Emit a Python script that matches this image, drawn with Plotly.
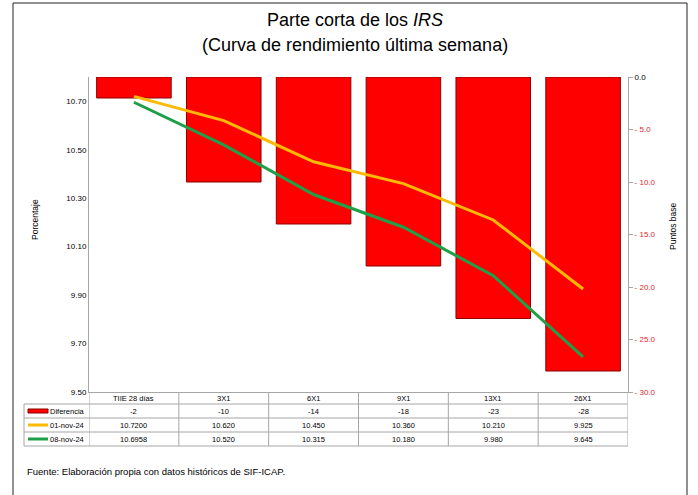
import plotly.graph_objects as go

categories = ["TIIE 28 días", "3X1", "6X1", "9X1", "13X1", "26X1"]
diferencia = [-2, -10, -14, -18, -23, -28]
nov01 = [10.7200, 10.620, 10.450, 10.360, 10.210, 9.925]
nov08 = [10.6958, 10.520, 10.315, 10.180, 9.980, 9.645]
diferencia_labels = ["-2", "-10", "-14", "-18", "-23", "-28"]
nov01_labels = ["10.7200", "10.620", "10.450", "10.360", "10.210", "9.925"]
nov08_labels = ["10.6958", "10.520", "10.315", "10.180", "9.980", "9.645"]
series_names = ["Diferencia", "01-nov-24", "08-nov-24"]
left_ticks = [9.50, 9.70, 9.90, 10.10, 10.30, 10.50, 10.70]
right_ticks = [0.0, -5.0, -10.0, -15.0, -20.0, -25.0, -30.0]

W, H = 698, 495
L, R, T, B = 89, 628, 77, 392
PW, PH = R - L, B - T

def px(x):
    return (x - L) / PW

def py(y):
    return (B - y) / PH

RED = "#FF0000"
ORANGE = "#FFBA00"
GREEN = "#1FA048"
GRID = "#A6A6A6"
FONT = "Liberation Sans"

fig = go.Figure()
fig.add_trace(go.Bar(
    x=categories, y=diferencia, name=series_names[0], yaxis="y",
    marker=dict(color=RED, line=dict(color="#8A0000", width=1)),
))
fig.add_trace(go.Scatter(
    x=categories, y=nov01, name=series_names[1], yaxis="y2", mode="lines",
    line=dict(color=ORANGE, width=3),
))
fig.add_trace(go.Scatter(
    x=categories, y=nov08, name=series_names[2], yaxis="y2", mode="lines",
    line=dict(color=GREEN, width=3),
))

right_text = []
for v in right_ticks:
    s = f"{v:.1f}"
    if v < 0:
        s = f"<span style='color:#E0282E'>- {abs(v):.1f}</span>"
    right_text.append(s)

shapes = []
ann = []

# outer border
shapes.append(dict(type="rect", xref="paper", yref="paper",
                   x0=px(13), x1=px(687), y0=py(500), y1=py(3),
                   line=dict(color="#222222", width=1)))

# table lines
tbl_rows = [404, 418, 432, 446]
for yy in tbl_rows:
    shapes.append(dict(type="line", xref="paper", yref="paper",
                       x0=px(24), x1=px(628), y0=py(yy), y1=py(yy),
                       line=dict(color=GRID, width=1)))
shapes.append(dict(type="line", xref="paper", yref="paper",
                   x0=px(24), x1=px(24), y0=py(404), y1=py(446),
                   line=dict(color=GRID, width=1)))
for i in range(len(categories) + 1):
    shapes.append(dict(type="line", xref="x", yref="paper",
                       x0=i - 0.5, x1=i - 0.5, y0=py(392), y1=py(446),
                       line=dict(color=GRID, width=1)))

# legend keys
key_colors = [RED, ORANGE, GREEN]
row_centers = [411, 425, 439]
for c, yc, name in zip(key_colors, row_centers, series_names):
    if c == RED:
        shapes.append(dict(type="rect", xref="paper", yref="paper",
                           x0=px(28), x1=px(48), y0=py(yc + 2), y1=py(yc - 2),
                           fillcolor=RED, line=dict(color="#8A0000", width=1)))
    else:
        shapes.append(dict(type="line", xref="paper", yref="paper",
                           x0=px(28), x1=px(48), y0=py(yc), y1=py(yc),
                           line=dict(color=c, width=3)))
    ann.append(dict(xref="paper", yref="paper", x=px(48), y=py(yc),
                    text=name, showarrow=False, xanchor="left", yanchor="middle",
                    font=dict(family=FONT, size=7.5, color="#000")))

# table text
rows = [categories, diferencia_labels, nov01_labels, nov08_labels]
row_y = [398, 411, 425, 439]
for labels, yc in zip(rows, row_y):
    for cat, lab in zip(categories, labels):
        ann.append(dict(xref="x", yref="paper", x=cat, y=py(yc),
                        text=lab, showarrow=False, xanchor="center", yanchor="middle",
                        font=dict(family=FONT, size=7.5, color="#000")))

# titles
ann.append(dict(xref="paper", yref="paper", x=px(355), y=py(20),
                text="Parte corta de los <i>IRS</i>", showarrow=False,
                xanchor="center", yanchor="middle",
                font=dict(family=FONT, size=18, color="#000")))
ann.append(dict(xref="paper", yref="paper", x=px(355), y=py(45),
                text="(Curva de rendimiento última semana)", showarrow=False,
                xanchor="center", yanchor="middle",
                font=dict(family=FONT, size=18, color="#000")))
ann.append(dict(xref="paper", yref="paper", x=px(35), y=py(220),
                text="Porcentaje", showarrow=False, textangle=-90,
                xanchor="center", yanchor="middle",
                font=dict(family=FONT, size=8.5, color="#000")))
ann.append(dict(xref="paper", yref="paper", x=px(673), y=py(226),
                text="Puntos base", showarrow=False, textangle=-90,
                xanchor="center", yanchor="middle",
                font=dict(family=FONT, size=8.5, color="#000")))
ann.append(dict(xref="paper", yref="paper", x=px(25), y=py(471),
                text="Fuente: Elaboración propia con datos históricos de SIF-ICAP.",
                showarrow=False, xanchor="left", yanchor="middle",
                font=dict(family=FONT, size=9.5, color="#000")))

fig.update_layout(
    width=W, height=H,
    margin=dict(l=L, r=W - R, t=T, b=H - B, pad=0),
    paper_bgcolor="white", plot_bgcolor="white",
    showlegend=False, bargap=0.17,
    xaxis=dict(type="category", range=[-0.5, len(categories) - 0.5],
               showticklabels=False, ticks="", showgrid=False,
               showline=True, linecolor=GRID, linewidth=1, zeroline=False),
    yaxis=dict(side="right", range=[-30, 0], tickvals=right_ticks, ticktext=right_text,
               showgrid=False, zeroline=False, showline=True, linecolor=GRID,
               linewidth=1, ticks="outside", ticklen=4, tickcolor=GRID,
               tickfont=dict(family=FONT, size=8, color="#000")),
    yaxis2=dict(side="left", overlaying="y", range=[9.5, 10.8], tickvals=left_ticks,
                tickformat=".2f", showgrid=False, zeroline=False, showline=True,
                linecolor=GRID, linewidth=1, ticks="",
                tickfont=dict(family=FONT, size=8, color="#000")),
    shapes=shapes, annotations=ann,
)

fig.write_html("out.html")
